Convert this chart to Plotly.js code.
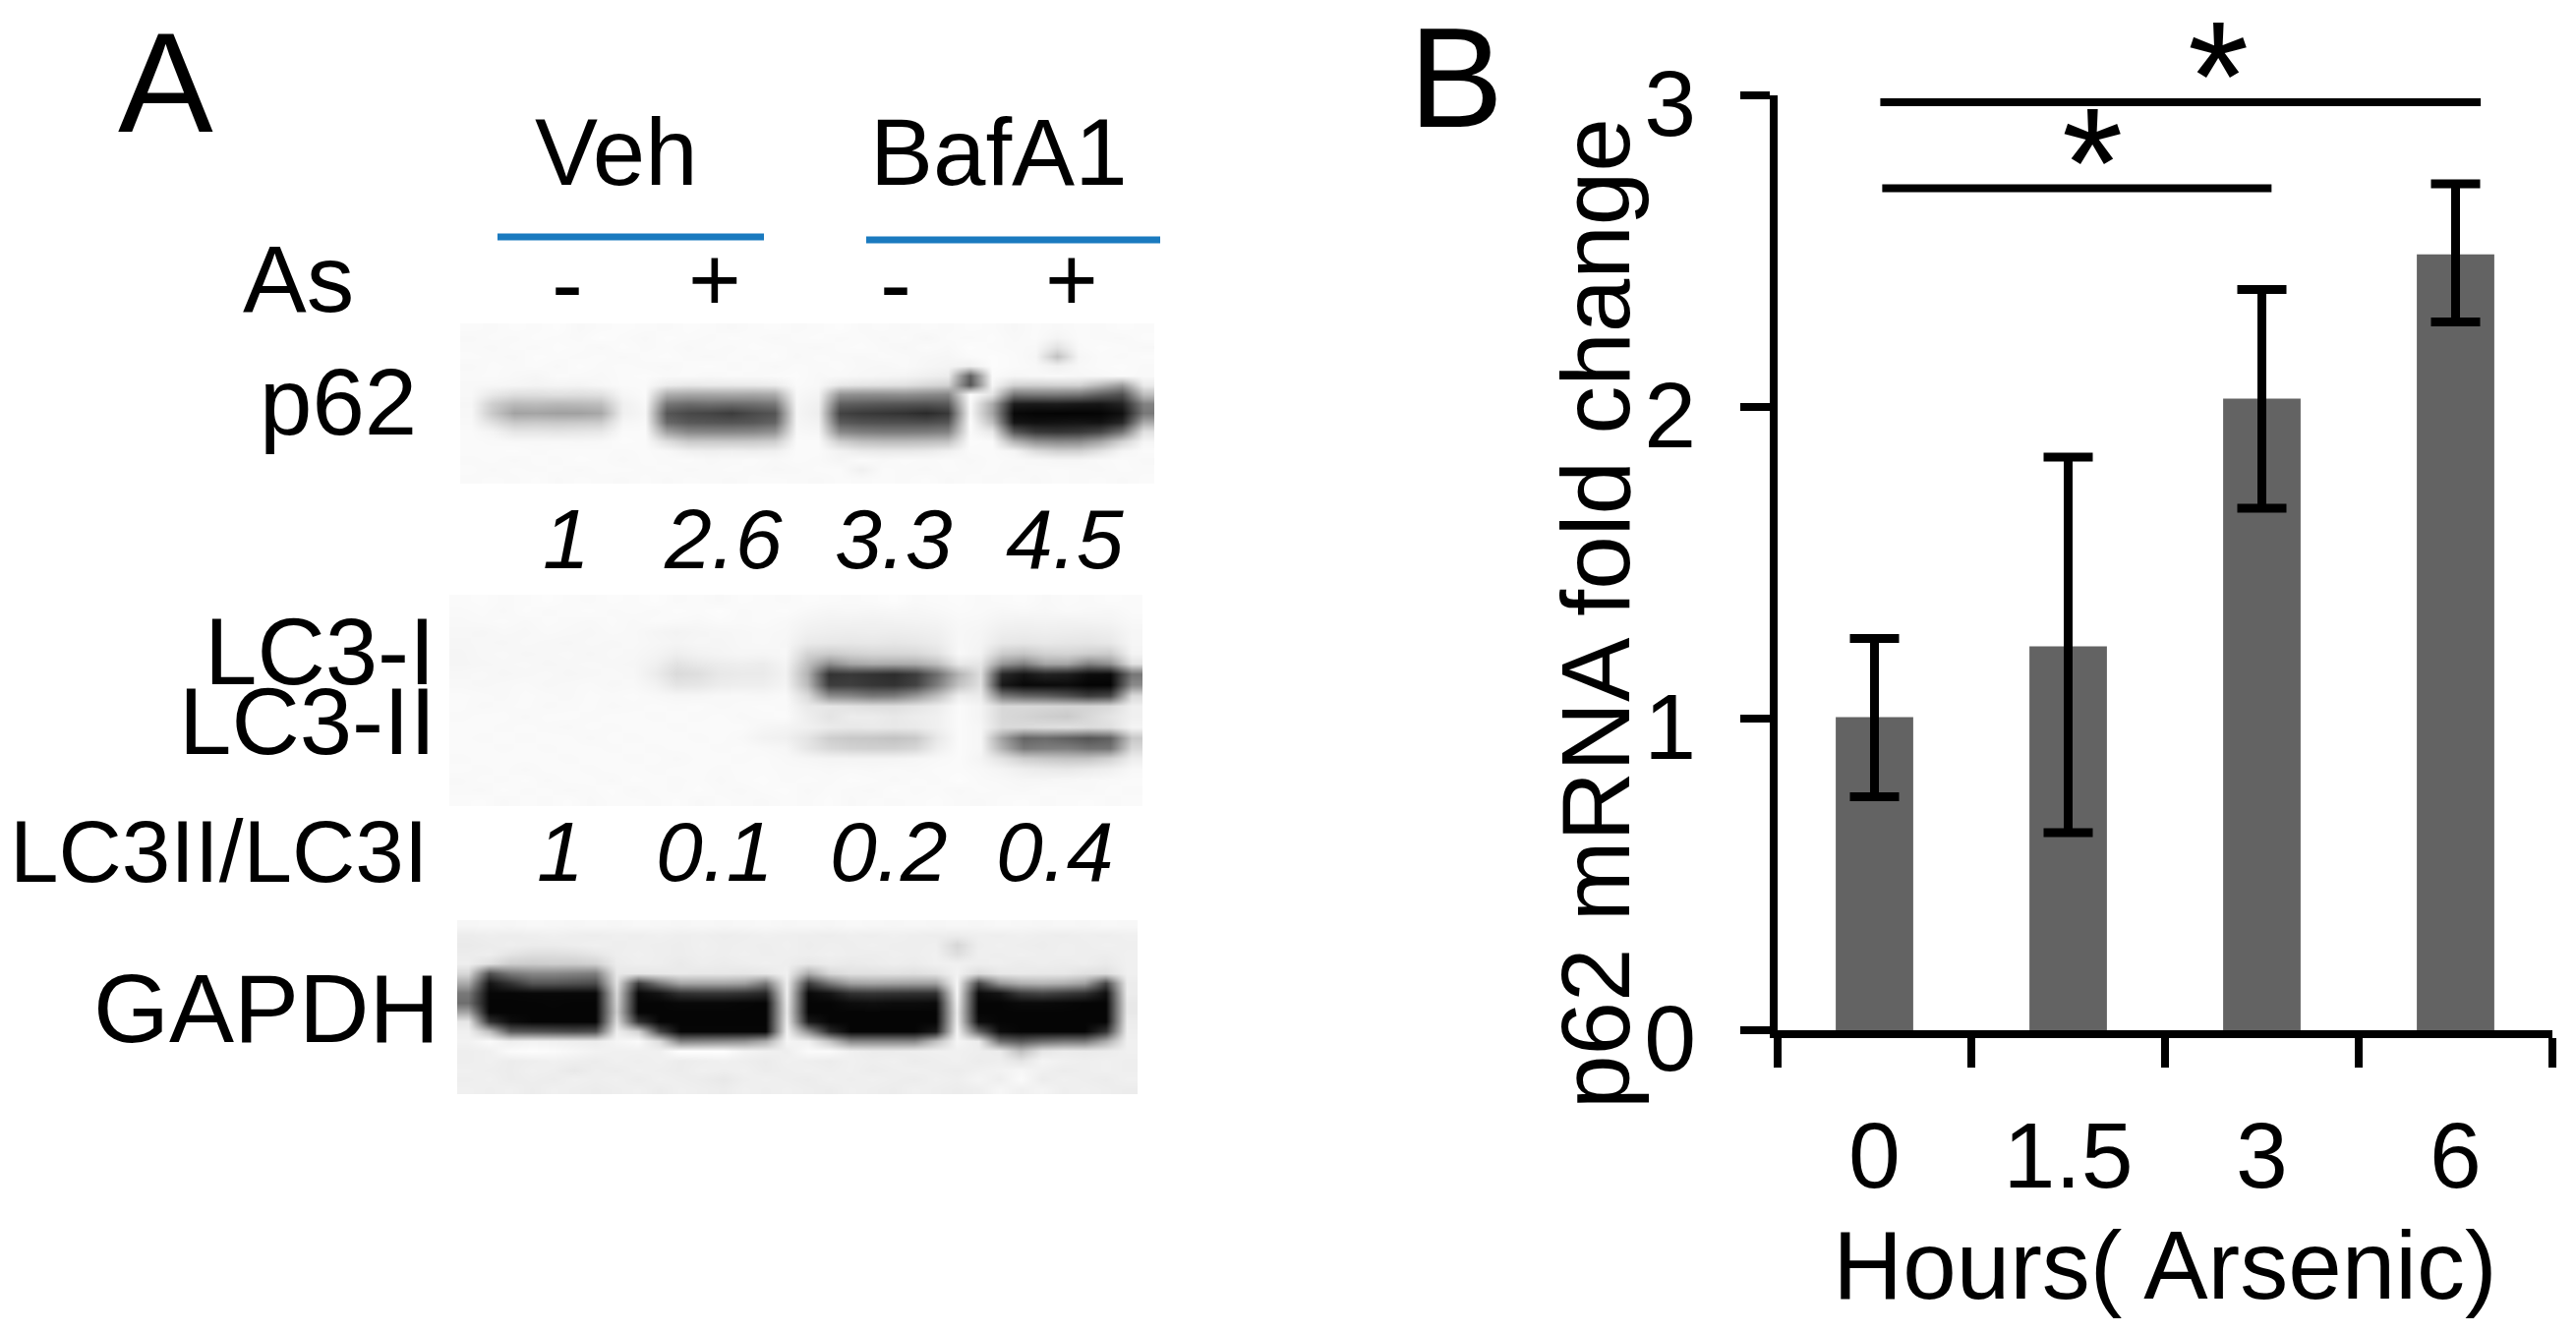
<!DOCTYPE html>
<html><head><meta charset="utf-8">
<script src="https://cdn.plot.ly/plotly-3.0.1.min.js"></script>
<style>html,body{margin:0;padding:0;background:#fff}#c{width:2620px;height:1356px}</style>
</head><body><div id="c"></div>
<script>
const hours = ['0','1.5','3','6'];
const foldChange = [1.005,1.232,2.027,2.49];
const errUp = [0.252,0.607,0.35,0.226];
const errDown = [0.256,0.598,0.352,0.217];
const yTicks = [0,1,2,3];
const sigTop = [0.03,3.13,2.978];
const sigLow = [0.04,2.05,2.702];

const p62Blot = [
[250,249,251,250,252,248,250,251,250,249,251,250,248,250,251,249,250,252,249,250,248,250,249,251,250,247,250,248,250,249,251,250],
[248,250,249,251,250,249,252,250,248,251,250,249,251,250,248,250,251,249,250,248,250,246,250,249,251,248,250,244,250,249,248,251],
[249,248,250,249,251,250,248,251,249,250,248,250,249,251,250,249,248,250,251,249,247,250,248,252,250,249,248,226,249,251,250,248],
[250,249,248,251,250,249,250,248,250,251,249,248,250,249,251,248,250,249,248,250,249,247,246,250,252,250,246,192,246,250,249,251],
[248,250,249,250,248,251,249,250,249,248,250,251,249,250,248,250,249,250,248,247,249,246,244,240,252,250,248,240,248,250,251,249],
[249,250,248,246,250,249,248,250,251,249,250,248,250,249,250,251,248,249,247,246,244,240,236,95,250,246,248,249,247,248,250,249],
[248,247,246,244,245,244,247,250,250,236,232,234,233,234,236,250,248,232,228,226,224,216,210,85,246,210,208,210,210,184,155,235],
[248,232,222,222,224,222,224,246,250,172,166,166,168,166,170,248,244,146,142,142,144,138,134,252,228,118,122,122,118,96,80,190],
[246,205,186,188,184,186,190,240,248,118,108,112,108,112,120,246,240,96,92,88,86,84,90,250,170,28,26,28,24,22,35,130],
[247,200,162,164,160,160,168,240,246,86,72,68,60,74,84,245,238,66,58,54,50,42,56,248,165,8,5,4,4,5,15,120],
[248,222,200,202,200,202,204,246,248,104,88,86,84,88,100,246,242,90,82,80,80,78,86,252,190,20,16,18,20,18,38,170],
[250,244,230,230,228,230,232,250,250,160,136,134,134,136,146,248,246,136,126,122,122,124,130,250,232,86,56,52,56,70,115,225],
[250,249,248,248,248,247,248,251,250,222,202,202,201,202,206,250,250,206,192,188,188,190,194,251,250,180,146,138,140,165,210,245],
[250,250,251,249,250,250,250,249,250,248,240,238,240,238,240,250,250,242,234,232,232,234,240,250,250,245,220,208,208,225,245,250],
[249,250,248,250,249,251,250,248,250,249,250,248,249,250,248,250,249,245,250,248,250,249,250,248,250,249,248,246,246,249,250,248],
[250,248,250,249,250,248,250,250,249,250,248,249,250,249,247,248,250,250,240,250,249,248,250,249,250,248,249,250,249,248,250,249],
[249,250,249,251,248,250,249,248,250,248,250,249,248,250,250,249,248,250,249,250,249,251,248,250,249,250,248,250,249,250,248,250]
];

const lc3Blot = [
[250,251,249,250,252,250,249,251,250,252,249,250,248,251,250,249,251,250,249,250,252,249,250,251,249,250,251,248,250,249,251,250],
[249,250,248,251,249,250,251,249,250,249,251,250,252,249,250,251,248,246,247,246,247,246,248,250,249,247,248,247,249,248,247,250],
[248,249,250,248,250,249,248,250,248,250,249,248,250,249,250,248,244,242,242,241,242,243,244,248,247,243,242,243,242,243,244,248],
[247,246,248,247,249,248,247,249,248,245,243,245,246,247,248,247,240,238,237,238,237,238,240,247,245,238,237,238,237,236,238,246],
[246,247,246,248,247,246,248,247,248,246,244,246,245,247,248,246,234,232,231,232,230,232,236,247,244,232,230,232,230,229,232,246],
[245,247,248,246,247,248,246,248,247,244,238,242,244,246,245,247,212,204,210,214,214,216,226,248,242,204,198,210,212,206,204,244],
[245,246,247,248,246,247,248,247,246,240,226,232,236,238,236,244,192,140,165,172,170,172,190,232,230,150,128,165,165,128,146,226],
[247,248,246,247,248,246,247,248,247,236,218,222,232,234,234,242,178,50,56,50,44,60,110,180,222,40,20,35,30,12,10,118],
[248,247,248,249,247,248,249,247,248,242,228,230,236,238,238,244,186,60,62,54,50,66,125,195,224,24,8,10,12,4,4,138],
[250,249,248,250,249,248,250,249,250,248,246,246,248,248,247,249,218,140,134,120,124,150,190,238,235,120,100,94,80,60,70,218],
[250,248,249,250,248,249,250,248,249,250,249,250,248,249,250,249,234,230,226,222,222,228,236,250,244,216,216,214,212,212,218,240],
[249,250,250,248,250,250,249,250,250,249,250,249,250,248,249,250,238,228,236,236,232,236,240,250,244,216,212,206,202,216,228,240],
[250,250,249,250,249,248,250,249,250,250,249,250,250,250,246,244,240,234,232,234,232,234,240,250,246,218,218,222,224,220,224,244],
[250,249,250,249,250,250,248,250,249,250,250,249,250,248,242,240,228,206,200,198,194,200,232,250,246,160,100,106,96,84,96,200],
[250,250,249,250,249,250,250,249,250,249,250,250,249,250,248,246,230,216,210,208,208,214,238,250,246,176,120,126,126,114,116,216],
[249,250,250,250,250,249,250,250,249,250,248,250,250,249,250,248,246,244,244,244,244,246,248,250,244,226,206,200,196,196,210,238],
[250,249,250,248,250,250,249,250,250,249,250,250,249,250,250,249,249,248,249,248,249,248,250,250,248,244,238,234,232,236,240,248],
[248,250,249,251,248,250,250,248,251,250,249,250,248,250,251,249,250,249,251,250,248,250,249,252,249,248,246,246,247,248,249,250],
[249,248,251,249,250,248,249,251,248,250,249,251,249,248,250,251,248,250,249,248,251,249,250,248,250,249,248,250,249,248,250,249],
[250,251,248,250,249,251,248,250,250,249,251,248,250,249,248,250,249,251,248,250,249,250,251,249,248,250,251,249,250,251,249,250]
];

const gapdhBlot = [
[246,247,246,248,247,246,247,246,248,247,246,247,246,247,248,246,247,246,248,247,246,247,246,247,246,248,247,246,247,246,248,247],
[236,238,237,238,240,238,237,239,238,240,238,239,237,238,240,239,238,237,239,238,240,238,237,236,239,238,240,238,237,239,238,240],
[234,236,238,236,236,238,240,238,239,238,237,240,238,239,238,240,237,239,238,240,238,238,239,215,238,240,238,237,239,238,240,239],
[236,238,228,222,222,224,230,238,240,238,237,239,238,240,238,239,238,240,238,237,239,238,240,222,239,238,240,238,239,238,237,240],
[238,224,206,204,206,205,210,236,239,238,234,238,236,238,240,238,232,236,234,236,238,236,240,240,238,239,236,238,236,238,234,240],
[215,80,120,135,135,130,125,232,230,232,234,232,232,230,232,240,170,215,225,225,226,224,228,242,220,232,234,232,232,225,222,240],
[170,20,50,85,85,80,75,225,60,120,165,165,165,160,120,238,60,120,160,165,162,160,160,245,70,150,175,180,175,160,70,236],
[120,6,6,8,8,8,8,215,8,20,50,55,55,50,40,238,8,20,50,55,52,50,50,245,10,20,60,70,60,50,15,236],
[110,5,5,5,6,5,5,210,5,5,8,8,8,6,5,235,5,5,12,15,12,12,10,240,5,5,10,10,8,5,5,232],
[165,5,5,5,5,5,5,205,5,5,5,5,5,5,5,232,5,5,5,5,5,5,5,235,5,5,5,5,5,5,5,232],
[230,50,12,5,5,5,5,220,50,5,5,5,5,5,5,236,25,5,5,5,5,5,5,238,12,5,5,5,5,5,5,236],
[240,190,90,85,80,75,80,238,210,70,6,6,6,6,6,242,140,40,5,5,5,5,25,244,100,12,5,5,5,5,50,238],
[242,250,238,242,240,238,236,245,250,220,130,135,140,145,170,245,240,195,135,135,135,135,190,245,236,110,90,110,120,120,170,240],
[238,240,250,252,250,246,242,240,240,240,254,254,254,244,240,238,250,250,240,236,236,238,240,240,238,235,190,230,236,234,236,240],
[238,240,236,238,240,238,236,240,238,240,236,238,240,238,235,240,238,236,240,238,240,236,238,240,236,238,228,244,240,238,240,238],
[240,238,236,240,238,232,238,236,240,238,236,240,238,240,236,238,240,238,240,236,238,240,238,236,240,242,246,240,236,238,240,238],
[238,240,236,238,236,240,238,240,236,240,238,236,232,238,240,238,236,240,238,240,238,236,240,238,244,238,250,236,240,238,236,240],
[240,238,240,236,240,238,236,238,240,236,240,238,236,240,238,240,238,236,240,238,236,240,238,236,238,246,240,244,238,240,238,236]
];

const panelLetters = ['A','B'];
const treatments = ['Veh','BafA1'];
const arsenicMarks = ['As','-','+','-','+'];
const p62Values = ['1','2.6','3.3','4.5'];
const lc3Values = ['1','0.1','0.2','0.4'];
const blotLabels = ['p62','LC3-I','LC3-II','LC3II/LC3I','GAPDH'];

const W = 2620, H = 1356, FONT = '"Liberation Sans", Arial, sans-serif';
const px = v => v / W, py = v => 1 - v / H;

function note(text, x, y, size, anchor, extra) {
  return Object.assign({
    text, x: px(x), y: py(y), xref: 'paper', yref: 'paper', showarrow: false,
    xanchor: anchor || 'center', yanchor: 'middle',
    font: { family: FONT, size, color: '#000' }
  }, extra || {});
}
const ital = { family: FONT, color: '#000', style: 'italic' };

const annotations = [
  note(panelLetters[0], 168, 84, 145),
  note(panelLetters[1], 1481, 80, 144),
  note(treatments[0], 627, 155, 96),
  note(treatments[1], 1016, 155, 96),
  note(arsenicMarks[0], 303, 284, 97),
  note(arsenicMarks[1], 577, 288, 96),
  note(arsenicMarks[2], 727, 284, 92),
  note(arsenicMarks[3], 911, 288, 96),
  note(arsenicMarks[4], 1090, 284, 92),
  note(blotLabels[0], 344, 408, 96),
  note(blotLabels[1], 445, 662, 96, 'right'),
  note(blotLabels[2], 445, 733, 96, 'right'),
  note(blotLabels[3], 437, 866, 89, 'right'),
  note(blotLabels[4], 449, 1025, 99, 'right'),
  note('p62 mRNA fold change', 1623, 624, 98, 'center', { textangle: -90 }),
  note('*', 2256, 78, 160),
  note('*', 2128, 165, 160)
];
[576, 735, 909, 1083].forEach((x, i) => {
  annotations.push(note(p62Values[i], x, 548, 86, 'center', { font: Object.assign({ size: 86 }, ital) }));
});
[570, 727, 904, 1073].forEach((x, i) => {
  annotations.push(note(lc3Values[i], x, 866, 86, 'center', { font: Object.assign({ size: 86 }, ital) }));
});

const gray = [[0, '#000000'], [1, '#ffffff']];
function blot(z, n) {
  return { type: 'heatmap', z, xaxis: 'x' + n, yaxis: 'y' + n, colorscale: gray, zmin: 0, zmax: 255,
           showscale: false, zsmooth: 'best', hoverinfo: 'skip' };
}
const traces = [
  blot(p62Blot, 2), blot(lc3Blot, 3), blot(gapdhBlot, 4),
  { type: 'bar', x: hours, y: foldChange, width: 0.4, marker: { color: '#636363', line: { width: 0 } },
    error_y: { type: 'data', symmetric: false, array: errUp, arrayminus: errDown, color: '#000', thickness: 9, width: 25 },
    hoverinfo: 'skip' }
];

function hidden(dom, range) {
  return { domain: dom, range, visible: false, fixedrange: true };
}
const rangeX = [-0.5, 31.5];
const layout = {
  width: W, height: H, margin: { l: 0, r: 0, t: 0, b: 0 }, showlegend: false,
  paper_bgcolor: '#fff', plot_bgcolor: 'rgba(0,0,0,0)', font: { family: FONT, color: '#000' },
  xaxis: { domain: [px(1808), px(2596)], type: 'category', categoryorder: 'array', categoryarray: hours,
    range: [-0.5, 3.5], tickson: 'boundaries', ticks: 'outside', ticklen: 30, tickwidth: 8, tickcolor: '#000',
    showline: true, linewidth: 8, linecolor: '#000', showgrid: false, zeroline: false, anchor: 'y',
    ticklabelstandoff: 38, tickfont: { family: FONT, size: 95, color: '#000' },
    title: { text: 'Hours( Arsenic)', standoff: 28, font: { family: FONT, size: 98, color: '#000' } } },
  yaxis: { domain: [py(1048), py(97)], range: [0, 3], tickmode: 'array', tickvals: yTicks, ticktext: yTicks.map(String),
    ticks: 'outside', ticklen: 30, tickwidth: 8, tickcolor: '#000', showline: true, linewidth: 8, linecolor: '#000',
    showgrid: false, zeroline: false, anchor: 'x', ticklabelstandoff: 26, ticklabelshift: 8,
    tickfont: { family: FONT, size: 95, color: '#000' } },
  xaxis2: Object.assign(hidden([px(468), px(1174)], rangeX), { anchor: 'y2' }),
  yaxis2: Object.assign(hidden([py(492), py(329)], [16.5, -0.5]), { anchor: 'x2' }),
  xaxis3: Object.assign(hidden([px(457), px(1162)], rangeX), { anchor: 'y3' }),
  yaxis3: Object.assign(hidden([py(820), py(605)], [19.5, -0.5]), { anchor: 'x3' }),
  xaxis4: Object.assign(hidden([px(465), px(1157)], rangeX), { anchor: 'y4' }),
  yaxis4: Object.assign(hidden([py(1113), py(936)], [17.5, -0.5]), { anchor: 'x4' }),
  shapes: [
    { type: 'line', xref: 'paper', yref: 'paper', x0: px(506), x1: px(777), y0: py(241), y1: py(241), line: { color: '#1a7abf', width: 7 } },
    { type: 'line', xref: 'paper', yref: 'paper', x0: px(881), x1: px(1180), y0: py(244), y1: py(244), line: { color: '#1a7abf', width: 7 } },
    { type: 'line', xref: 'x', yref: 'y', x0: sigTop[0], x1: sigTop[1], y0: sigTop[2], y1: sigTop[2], line: { color: '#000', width: 8 } },
    { type: 'line', xref: 'x', yref: 'y', x0: sigLow[0], x1: sigLow[1], y0: sigLow[2], y1: sigLow[2], line: { color: '#000', width: 8 } }
  ],
  annotations
};
Plotly.newPlot('c', traces, layout, { staticPlot: true, displayModeBar: false });
</script></body></html>
